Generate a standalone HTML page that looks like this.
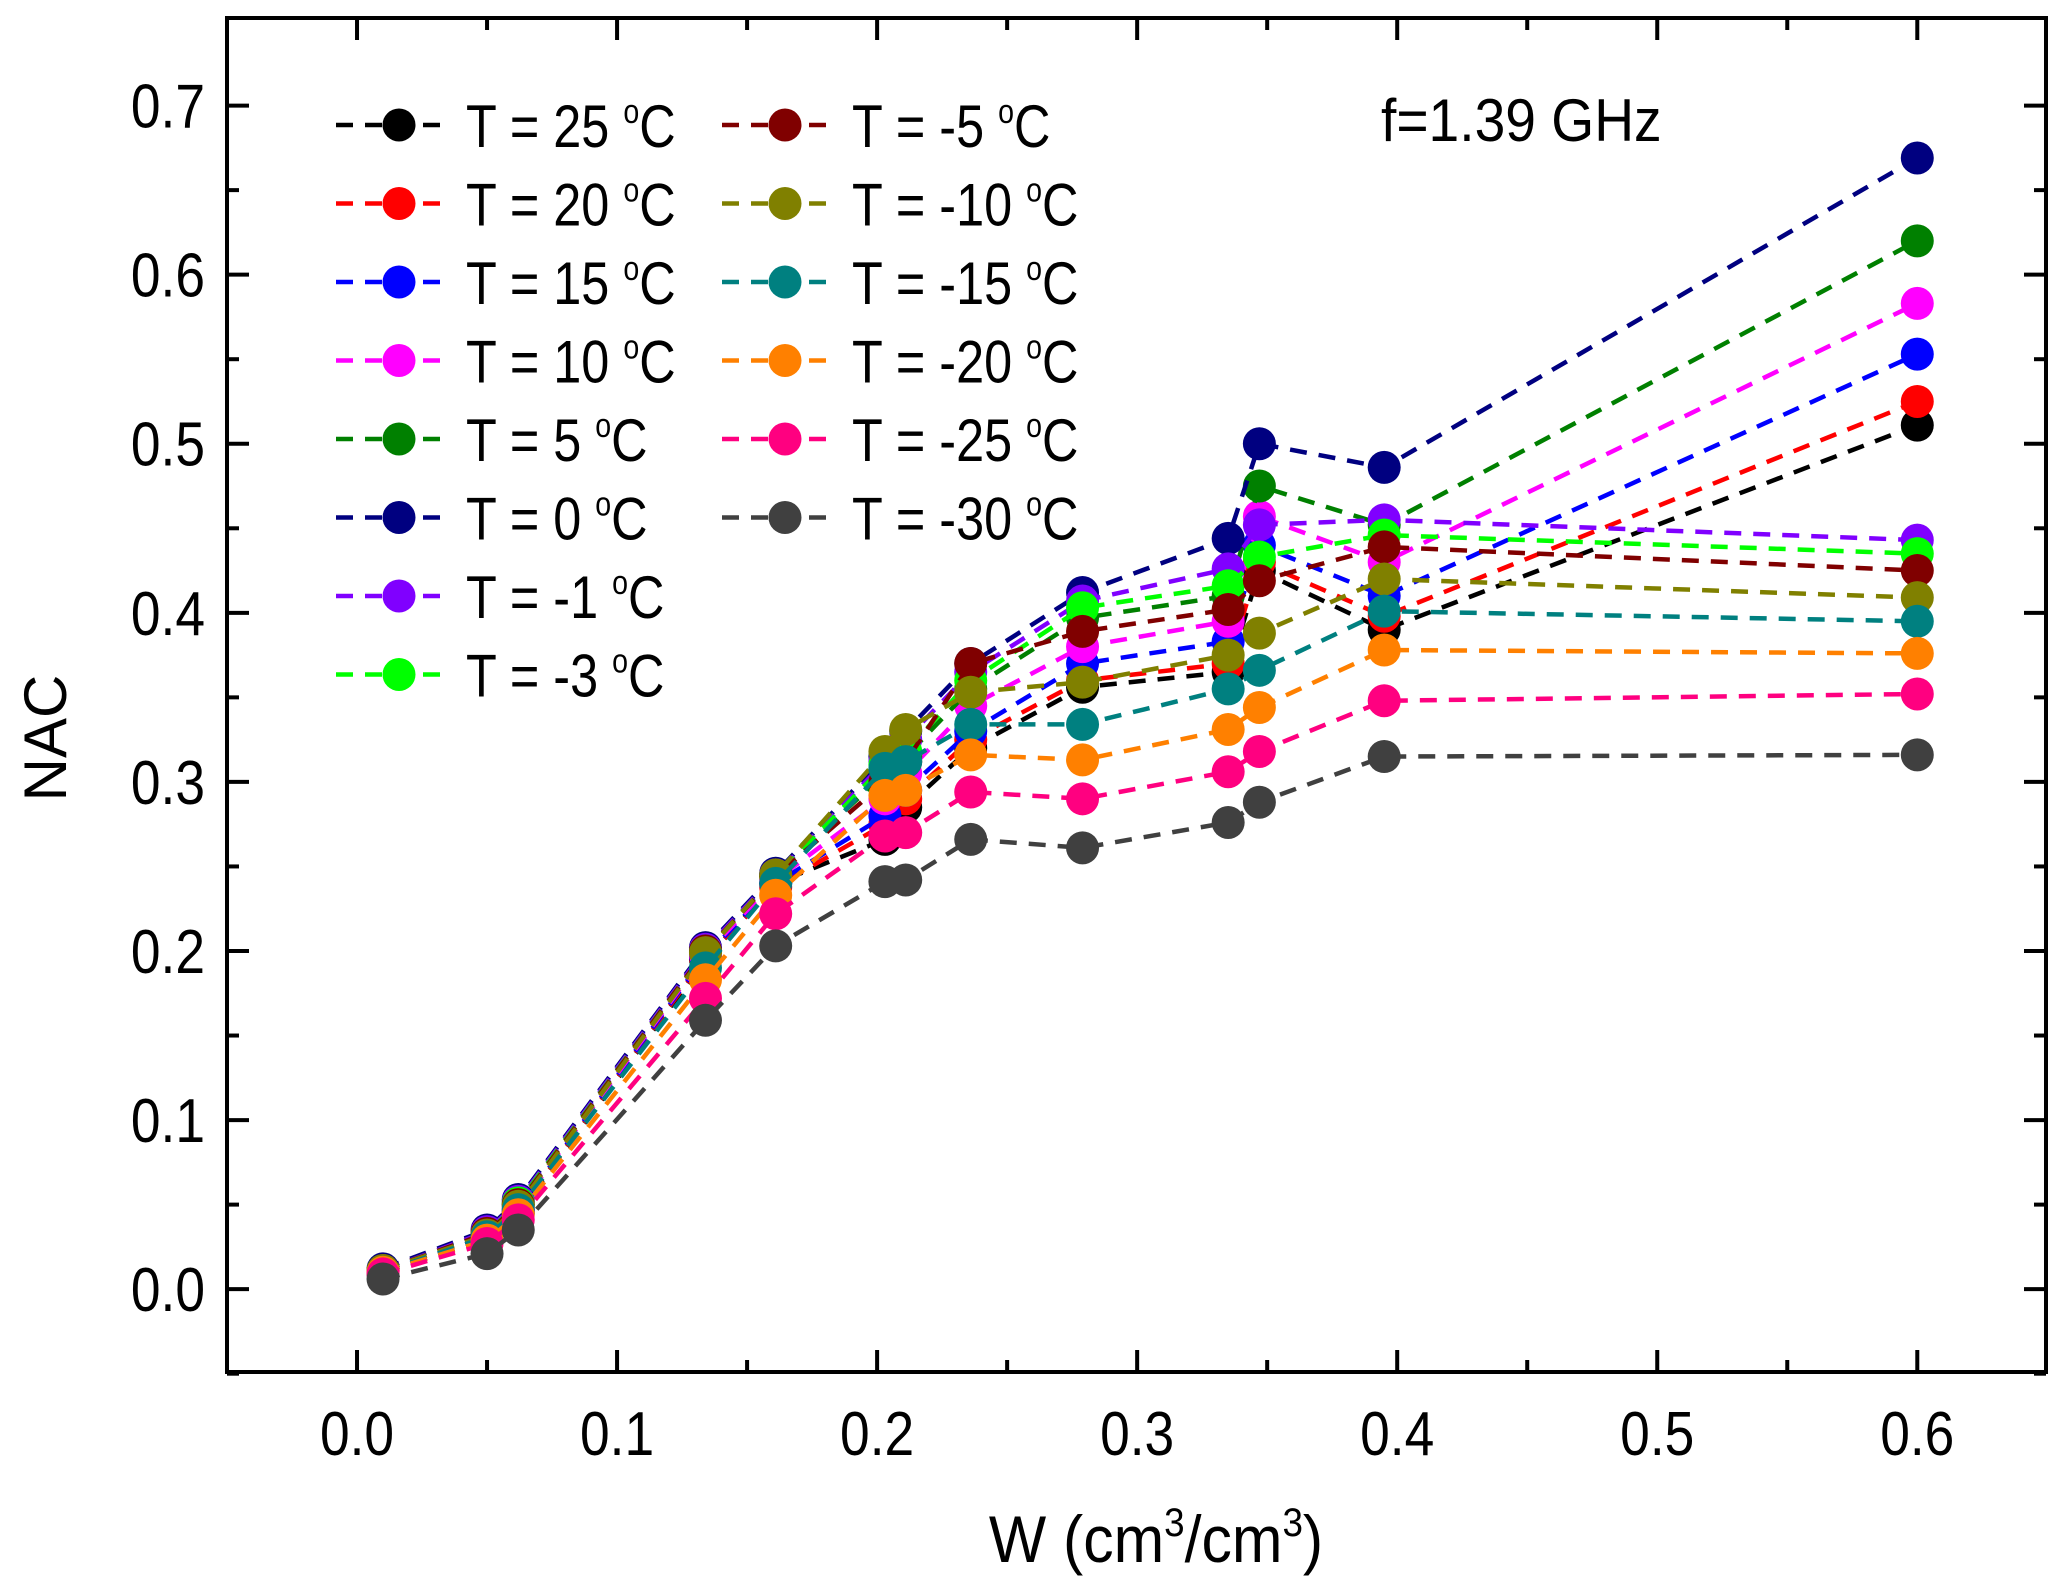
<!DOCTYPE html>
<html><head><meta charset="utf-8"><style>
html,body{margin:0;padding:0;background:#fff;}
svg{display:block;font-family:"Liberation Sans",Arial,sans-serif;}
</style></head><body>
<svg id="chart" width="2067" height="1584" viewBox="0 0 2067 1584" xmlns="http://www.w3.org/2000/svg"></svg>
<script>
const xValues = [0.01,0.05,0.062,0.134,0.161,0.203,0.211,0.236,0.279,0.335,0.347,0.395,0.6];
const seriesLabels = ["25","20","15","10","5","0","-1","-3","-5","-10","-15","-20","-25","-30"];
const seriesColors = ["#000000","#ff0000","#0000ff","#ff00ff","#008000","#000080","#8000ff","#00ff00","#800000","#808000","#008080","#ff8000","#ff0080","#404040"];
const sT25  = [0.010,0.030,0.045,0.195,0.240,0.266,0.285,0.320,0.356,0.365,0.425,0.390,0.511];
const sT20  = [0.010,0.030,0.046,0.196,0.238,0.275,0.290,0.325,0.360,0.370,0.430,0.398,0.525];
const sT15  = [0.010,0.031,0.047,0.197,0.240,0.280,0.295,0.330,0.370,0.383,0.440,0.410,0.553];
const sT10  = [0.011,0.032,0.048,0.198,0.242,0.290,0.305,0.345,0.380,0.395,0.457,0.430,0.583];
const sT5   = [0.011,0.033,0.050,0.200,0.245,0.305,0.315,0.355,0.397,0.410,0.475,0.452,0.620];
const sT0   = [0.012,0.035,0.053,0.202,0.246,0.315,0.330,0.370,0.412,0.444,0.500,0.486,0.669];
const sTm1  = [0.011,0.034,0.052,0.201,0.245,0.312,0.325,0.365,0.407,0.426,0.452,0.455,0.443];
const sTm3  = [0.011,0.033,0.051,0.200,0.244,0.310,0.318,0.360,0.403,0.416,0.433,0.446,0.435];
const sTm5  = [0.011,0.033,0.050,0.200,0.244,0.300,0.312,0.370,0.389,0.402,0.419,0.439,0.425];
const sTm10 = [0.011,0.032,0.049,0.199,0.245,0.318,0.331,0.353,0.359,0.375,0.388,0.420,0.409];
const sTm15 = [0.010,0.031,0.047,0.190,0.240,0.308,0.312,0.334,0.334,0.355,0.366,0.401,0.395];
const sTm20 = [0.010,0.029,0.044,0.183,0.233,0.292,0.295,0.316,0.313,0.331,0.344,0.378,0.376];
const sTm25 = [0.009,0.027,0.041,0.172,0.222,0.268,0.270,0.294,0.290,0.306,0.318,0.348,0.352];
const sTm30 = [0.006,0.021,0.035,0.159,0.203,0.241,0.242,0.266,0.261,0.276,0.288,0.315,0.316];
const seriesValues = [sT25,sT20,sT15,sT10,sT5,sT0,sTm1,sTm3,sTm5,sTm10,sTm15,sTm20,sTm25,sTm30];
const xTicks = ["0.0","0.1","0.2","0.3","0.4","0.5","0.6"];
const yTicks = ["0.0","0.1","0.2","0.3","0.4","0.5","0.6","0.7"];

const NS="http://www.w3.org/2000/svg";
const svg=document.getElementById('chart');
const L=227,R=2046,T=18,B=1372;
const xMin=-0.05,xMax=0.6495,yMin=-0.049,yMax=0.7518;
function sx(v){return L+(v-xMin)/(xMax-xMin)*(R-L);}
function sy(v){return B-(v-yMin)/(yMax-yMin)*(B-T);}
function mk(tag,attrs,parent){const e=document.createElementNS(NS,tag);for(const k in attrs)e.setAttribute(k,attrs[k]);(parent||svg).appendChild(e);return e;}
const CX=0.86;

const frame=mk('rect',{x:L,y:T,width:R-L,height:B-T,fill:'none',stroke:'#000','stroke-width':4});



for(let i=0;i<=13;i++){
  const v=-0.05+i*0.05; const x=sx(v); const major=(i%2===1);
  const len=major?22:12;
  const t1=mk('line',{x1:x,y1:B,x2:x,y2:B-len,stroke:'#000','stroke-width':4});
  
  
  const t2=mk('line',{x1:x,y1:T,x2:x,y2:T+len,stroke:'#000','stroke-width':4});
  
  
}
xTicks.forEach((lab,i)=>{
  const x=sx(i*0.1);
  const t=mk('text',{x:0,y:0,'font-size':62,'text-anchor':'middle',fill:'#000',transform:`translate(${x},${B+83}) scale(${CX},1)`});
  t.textContent=lab;
  
  
});
for(let i=0;i<=15;i++){
  const v=-0.05+i*0.05; const y=sy(v); const major=(i%2===1);
  const len=major?22:12;
  const t1=mk('line',{x1:L,y1:y,x2:L+len,y2:y,stroke:'#000','stroke-width':4});
  
  
  const t2=mk('line',{x1:R,y1:y,x2:R-len,y2:y,stroke:'#000','stroke-width':4});
  
  
}
yTicks.forEach((lab,i)=>{
  const t=mk('text',{x:0,y:0,'font-size':62,'text-anchor':'end',fill:'#000',transform:`translate(${L-22},${sy(i*0.1)+22}) scale(${CX},1)`});
  t.textContent=lab;
  
  
});
const yt=mk('text',{x:0,y:0,'font-size':60,'text-anchor':'middle',fill:'#000',transform:'translate(66,738) rotate(-90)'});
yt.textContent='NAC';


const xt=mk('text',{x:0,y:0,'font-size':66,'text-anchor':'middle',fill:'#000',transform:'translate(1156,1562) scale(0.92,1)'});
xt.innerHTML='W (cm<tspan dy="-26" font-size="40">3</tspan><tspan dy="26">/cm</tspan><tspan dy="-26" font-size="40">3</tspan><tspan dy="26">)</tspan>';


const ann=mk('text',{x:0,y:0,'font-size':60,fill:'#000',transform:'translate(1381,141) scale(0.92,1)'});
ann.textContent='f=1.39 GHz';



seriesValues.forEach((vals,si)=>{
  const g=mk('g',{});
  
  
  const pts=vals.map((v,i)=>sx(xValues[i])+','+sy(v)).join(' ');
  const pl=mk('polyline',{points:pts,fill:'none',stroke:seriesColors[si],'stroke-width':4.5,'stroke-dasharray':'17,12'},g);
  
  
  vals.forEach((v,i)=>{
    const c=mk('circle',{cx:sx(xValues[i]),cy:sy(v),r:16.5,fill:seriesColors[si]},g);
    
    
  });
});

seriesLabels.forEach((lab,si)=>{
  const col=si<8?0:1; const row=si<8?si:si-8;
  const x0=col===0?336:722; const y=125+row*78.5;
  const g=mk('g',{});
  
  
  mk('line',{x1:x0,y1:y,x2:x0+106,y2:y,stroke:seriesColors[si],'stroke-width':4.5,'stroke-dasharray':'17,12'},g);
  mk('circle',{cx:x0+63,cy:y,r:16.5,fill:seriesColors[si]},g);
  const t=mk('text',{x:0,y:0,'font-size':60,fill:'#000',transform:`translate(${x0+130},${y+22}) scale(0.84,1)`},g);
  t.innerHTML='T = '+lab+' <tspan dy="-24" font-size="34">o</tspan><tspan dy="24">C</tspan>';
});
</script>
</body></html>
